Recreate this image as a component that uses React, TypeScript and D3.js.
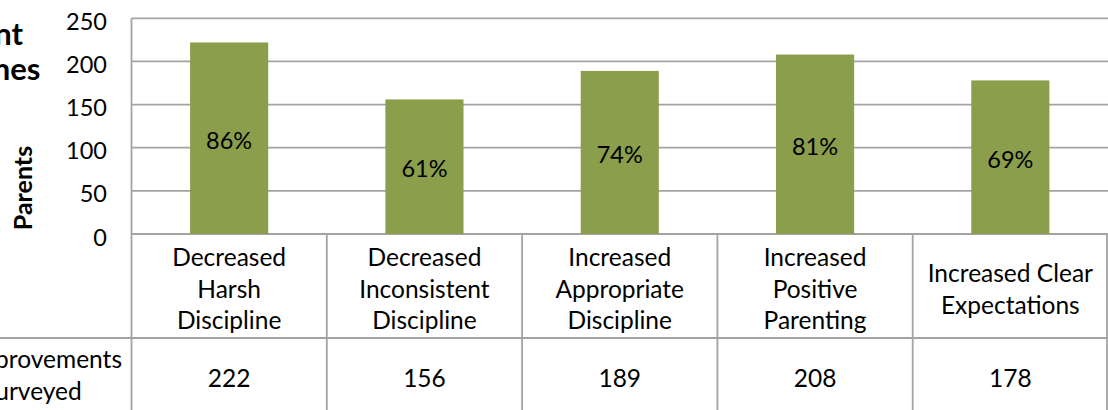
import React from "react";
import * as d3 from "d3";

const categoryLines: string[][] = [
  ["Decreased", "Harsh", "Discipline"],
  ["Decreased", "Inconsistent", "Discipline"],
  ["Increased", "Appropriate", "Discipline"],
  ["Increased", "Positive", "Parenting"],
  ["Increased Clear", "Expectations"],
];
const categories = categoryLines.map((l) => l.join(" "));
const parentsImproved = [222, 156, 189, 208, 178];
const percentImproved = [86, 61, 74, 81, 69];
const yTicks = [0, 50, 100, 150, 200, 250];
const titleLines = ["Parent", "Outcomes"];
const rowLabelLines = ["Reporting Improvements", "of Parents Surveyed"];
const yTitle = "Parents";

const W = 1108;
const H = 410;
const FONT = "Lato, 'Open Sans', sans-serif";
const FS_TICK = 23.5;
const FS_TABLE = 24.5;
const GRID = "#a3a3a3";
const BAR = "#8a9e4b";

export default function App() {
  const plotLeft = 131.5;
  const plotRight = 1108;
  const y = d3.scaleLinear().domain([0, 250]).range([234, 18.3]);
  const xBar = d3
    .scaleBand<string>()
    .domain(categories)
    .range([plotLeft, plotRight])
    .paddingInner(0.6)
    .paddingOuter(0.3);
  const xCell = d3.scaleBand<string>().domain(categories).range([plotLeft, plotRight]).padding(0);
  const rowTop = y(0);
  const rowMid = 338;
  const lineH = 31.7;

  return (
    <svg
      width={W}
      height={H}
      style={{ position: "absolute", left: 0, top: 0, background: "#fff" }}
      fontFamily={FONT}
    >
      {/* title (cropped on the left) */}
      <g fontWeight="bold" fontSize={31} fill="#000">
        <text x={23} y={45} textAnchor="end">{titleLines[0]}</text>
        <text x={40.5} y={80} textAnchor="end">{titleLines[1]}</text>
      </g>
      {/* y title */}
      <text
        transform={`translate(32,${188}) rotate(-90)`}
        textAnchor="middle"
        fontWeight="bold"
        fontSize={25}
      >
        {yTitle}
      </text>
      {/* gridlines */}
      {yTicks.map((t) => (
        <line key={t} x1={plotLeft} x2={plotRight} y1={y(t)} y2={y(t)} stroke={GRID} strokeWidth={1.8} />
      ))}
      {/* tick labels */}
      {yTicks.map((t) => (
        <text key={"l" + t} x={107} y={y(t) + 2.5} textAnchor="end" dominantBaseline="central" fontSize={FS_TICK}>
          {t}
        </text>
      ))}
      {/* value axis line */}
      <line x1={plotLeft} x2={plotLeft} y1={y(250)} y2={H} stroke={GRID} strokeWidth={1.8} />
      {/* bars */}
      {categories.map((c, i) => (
        <rect
          key={c}
          x={xBar(c)}
          width={xBar.bandwidth()}
          y={y(parentsImproved[i])}
          height={y(0) - y(parentsImproved[i])}
          fill={BAR}
        />
      ))}
      {/* percent labels */}
      {categories.map((c, i) => (
        <text
          key={"p" + c}
          x={(xBar(c) as number) + xBar.bandwidth() / 2}
          y={(y(parentsImproved[i]) + y(0)) / 2 + 10.5}
          textAnchor="middle"
          fontSize={FS_TICK}
        >
          {percentImproved[i]}%
        </text>
      ))}
      {/* data table */}
      <line x1={0} x2={plotRight} y1={rowMid} y2={rowMid} stroke={GRID} strokeWidth={1.8} />
      {categories.map((c) => (
        <line
          key={"v" + c}
          x1={(xCell(c) as number) + xCell.bandwidth()}
          x2={(xCell(c) as number) + xCell.bandwidth()}
          y1={rowTop}
          y2={H}
          stroke={GRID}
          strokeWidth={1.8}
          transform={c === categories[categories.length - 1] ? "translate(-1,0)" : undefined}
        />
      ))}
      {categories.map((c, i) => {
        const lines = categoryLines[i];
        const cx = (xCell(c) as number) + xCell.bandwidth() / 2;
        const base = 297.7 - ((lines.length - 1) / 2) * lineH;
        return (
          <text key={"c" + c} textAnchor="middle" fontSize={FS_TABLE}>
            {lines.map((ln, k) => (
              <tspan key={k} x={cx} y={base + k * lineH}>
                {ln}
              </tspan>
            ))}
          </text>
        );
      })}
      {categories.map((c, i) => (
        <text
          key={"n" + c}
          x={(xCell(c) as number) + xCell.bandwidth() / 2}
          y={387}
          textAnchor="middle"
          fontSize={FS_TABLE}
        >
          {parentsImproved[i]}
        </text>
      ))}
      {/* row label (cropped on the left) */}
      <g fontSize={FS_TABLE}>
        <text x={122} y={368.3} textAnchor="end">{rowLabelLines[0]}</text>
        <text x={81.7} y={400} textAnchor="end">{rowLabelLines[1]}</text>
      </g>
    </svg>
  );
}
